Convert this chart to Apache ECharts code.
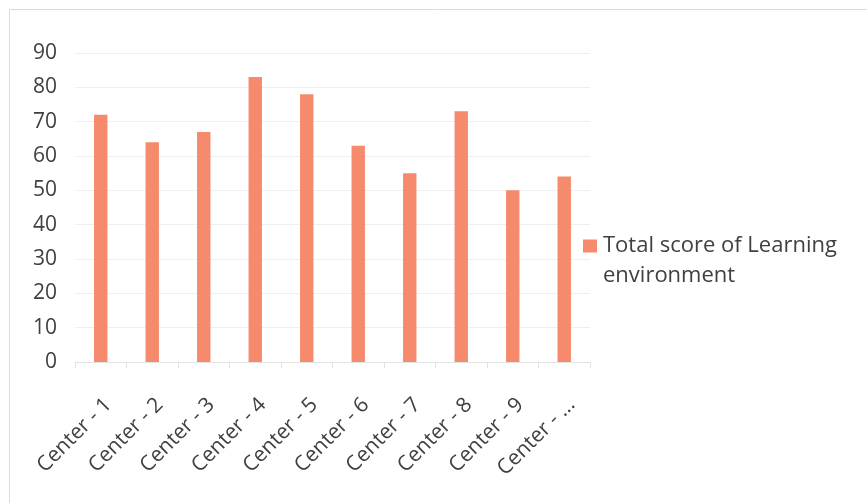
<!DOCTYPE html>
<html><head><meta charset="utf-8">
<script src="https://cdn.jsdelivr.net/npm/echarts@6/dist/echarts.min.js"></script>
<style>html,body{margin:0;padding:0;background:#fff}#c{width:867px;height:503px}</style>
</head><body><div id="c"></div>
<script>
const categories = ["Center - 1","Center - 2","Center - 3","Center - 4","Center - 5","Center - 6","Center - 7","Center - 8","Center - 9","Center - ..."];
const scores = [72, 64, 67, 83, 78, 63, 55, 73, 50, 54];
const seriesName = "Total score of Learning environment";
const legendLines = ["Total score of Learning", "environment"];
const font = "Open Sans";
const chart = echarts.init(document.getElementById('c'));
chart.setOption({
  animation: false,
  backgroundColor: '#fff',
  graphic: [{
    type: 'rect', shape: {x: 9.5, y: 9.5, width: 900, height: 600},
    style: {fill: 'none', stroke: '#d8dcdc', lineWidth: 1}, silent: true
  }],
  grid: {left: 75, right: 277, top: 53, bottom: 141, containLabel: false},
  legend: {
    left: 578, top: 196, orient: 'vertical',
    itemWidth: 14, itemHeight: 13, itemGap: 0,
    icon: 'rect',
    formatter: () => ' \n' + legendLines.join('\n'),
    textStyle: {fontFamily: font, fontSize: 22, color: '#404040', lineHeight: 30, padding: [0, 0, 0, 1]}
  },
  xAxis: {
    type: 'category', data: categories,
    axisLine: {lineStyle: {color: '#e2e2e2'}},
    axisTick: {show: true, length: 6, lineStyle: {color: '#e2e2e2'}},
    axisLabel: {rotate: 45, interval: 0, margin: 32, align: 'right', verticalAlign: 'top',
      fontFamily: font, fontSize: 21, color: '#404040'}
  },
  yAxis: {
    type: 'value', min: 0, max: 90, interval: 10,
    axisLine: {show: false}, axisTick: {show: false},
    splitLine: {lineStyle: {color: '#efefef'}},
    axisLabel: {margin: 18, fontFamily: font, fontSize: 21, color: '#404040'}
  },
  series: [{
    type: 'bar', name: seriesName, data: scores,
    barWidth: '26%',
    itemStyle: {color: '#F68A6C'}
  }]
});
</script></body></html>
